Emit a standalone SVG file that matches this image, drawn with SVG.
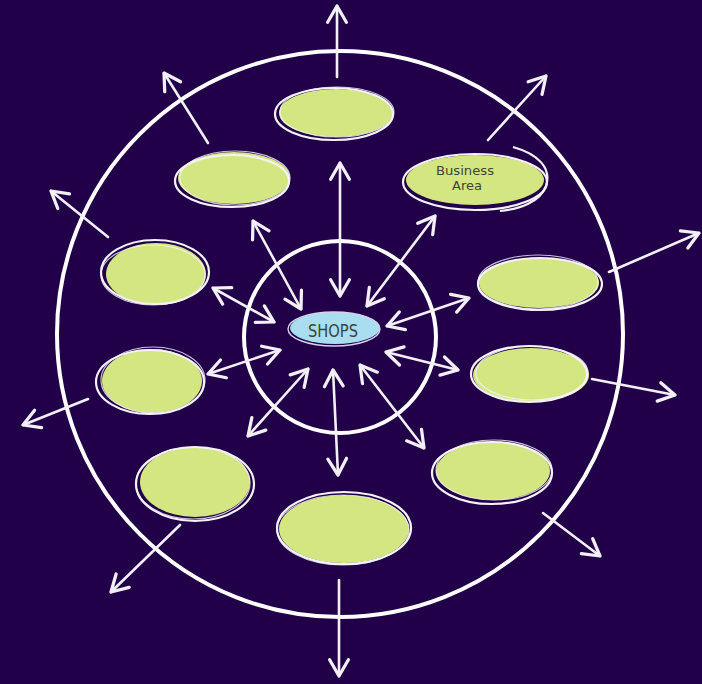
<svg xmlns="http://www.w3.org/2000/svg" width="702" height="684" viewBox="0 0 702 684">
<defs>
<style>
.ring{fill:none;stroke:#ffffff;stroke-width:4}
.g{fill:#d4e681}
.o{fill:none;stroke:#f4f2f8;stroke-width:2.2}
.o2{fill:none;stroke:#f4f2f8;stroke-width:1.2;opacity:0.8}
.a{stroke:#f2f0f6;stroke-width:2.6;fill:none;stroke-linecap:round}
.one{marker-end:url(#ah)}
.two{marker-start:url(#ah);marker-end:url(#ah)}
.lbl{font-family:"DejaVu Sans Condensed","DejaVu Sans",sans-serif;fill:#3b4636}
</style>
<marker id="ah" markerUnits="userSpaceOnUse" markerWidth="30" markerHeight="30" viewBox="-16 -12 20 24" refX="0" refY="0" orient="auto-start-reverse" overflow="visible">
<path d="M-13,-7.5 L0,0 L-13,7.5" fill="none" stroke="#f2f0f6" stroke-width="2.6" stroke-linecap="round" stroke-linejoin="round"/>
</marker>
</defs>
<rect width="702" height="684" fill="#210049"/>
<g id="rings">
<circle class="ring" cx="340" cy="334" r="283"/>
<circle class="ring" cx="340" cy="337" r="96"/>
</g>
<g id="connectors">
<line class="a one" x1="337" y1="77" x2="337" y2="6"/>
<line class="a one" x1="208" y1="143" x2="164" y2="73"/>
<line class="a one" x1="108" y1="237" x2="51" y2="191"/>
<line class="a one" x1="488" y1="140" x2="546" y2="76"/>
<line class="a one" x1="609" y1="272" x2="699" y2="233"/>
<line class="a one" x1="88" y1="399" x2="23" y2="425"/>
<line class="a one" x1="592" y1="379" x2="675" y2="395"/>
<line class="a one" x1="180" y1="525" x2="111" y2="592"/>
<line class="a one" x1="543" y1="513" x2="600" y2="556"/>
<line class="a one" x1="339" y1="580" x2="339" y2="676"/>
<line class="a two" x1="340" y1="163" x2="340" y2="296"/>
<line class="a two" x1="253" y1="221" x2="301" y2="309"/>
<line class="a two" x1="213" y1="288" x2="274" y2="322"/>
<line class="a two" x1="435" y1="216" x2="367" y2="306"/>
<line class="a two" x1="469" y1="298" x2="387" y2="326"/>
<line class="a two" x1="280" y1="350" x2="208" y2="374"/>
<line class="a two" x1="308" y1="369" x2="248" y2="436"/>
<line class="a two" x1="333" y1="370" x2="338" y2="475"/>
<line class="a two" x1="386" y1="352" x2="458" y2="370"/>
<line class="a two" x1="360" y1="365" x2="424" y2="448"/>
</g>
<g id="shops">
<ellipse cx="335" cy="328" rx="45" ry="16" fill="#a9def0"/>
<ellipse cx="334" cy="329" rx="46" ry="17" fill="none" stroke="#d8d0ec" stroke-width="1.4"/>
<text class="lbl" x="333" y="337" font-size="18" text-anchor="middle" textLength="50" lengthAdjust="spacingAndGlyphs" fill="#3c4850">SHOPS</text>
</g>
<g id="node-top">
<ellipse class="g" cx="336" cy="113" rx="57" ry="24"/>
<ellipse class="o" cx="334" cy="114" rx="59" ry="26"/>
<ellipse class="o2" cx="337" cy="112" rx="57" ry="25"/>
</g>
<g id="node-business">
<ellipse class="g" cx="475" cy="180" rx="69" ry="25"/>
<ellipse class="o" cx="475" cy="182" rx="72" ry="28"/>
<path class="o" d="M513,147 C538,154 552,168 546,186 C540,202 520,209 500,211"/>
<text class="lbl" x="465" y="175" font-size="13" text-anchor="middle" textLength="58" lengthAdjust="spacingAndGlyphs">Business</text>
<text class="lbl" x="467" y="190" font-size="13" text-anchor="middle" textLength="30" lengthAdjust="spacingAndGlyphs">Area</text>
</g>
<g id="node-topleft">
<ellipse class="g" cx="234" cy="178" rx="56" ry="26"/>
<ellipse class="o" cx="232" cy="181" rx="57" ry="26"/>
<ellipse class="o2" cx="235" cy="178" rx="55" ry="27"/>
</g>
<g id="node-leftupper">
<ellipse class="g" cx="156" cy="274" rx="50" ry="31"/>
<ellipse class="o" cx="155" cy="272" rx="54" ry="32"/>
<ellipse class="o2" cx="153" cy="275" rx="52" ry="30"/>
</g>
<g id="node-rightupper">
<ellipse class="g" cx="539" cy="283" rx="60" ry="25"/>
<ellipse class="o" cx="540" cy="284" rx="62" ry="26"/>
<ellipse class="o2" cx="538" cy="282" rx="60" ry="27"/>
</g>
<g id="node-leftmiddle">
<ellipse class="g" cx="152" cy="381" rx="50" ry="32"/>
<ellipse class="o" cx="150" cy="382" rx="54" ry="32"/>
<ellipse class="o2" cx="153" cy="380" rx="52" ry="33"/>
</g>
<g id="node-rightmiddle">
<ellipse class="g" cx="531" cy="375" rx="58" ry="27"/>
<ellipse class="o" cx="529" cy="374" rx="58" ry="28"/>
<ellipse class="o2" cx="532" cy="373" rx="56" ry="27"/>
</g>
<g id="node-lowerleft">
<ellipse class="g" cx="195" cy="482" rx="55" ry="35"/>
<ellipse class="o" cx="195" cy="484" rx="59" ry="37"/>
<ellipse class="o2" cx="193" cy="483" rx="57" ry="36"/>
</g>
<g id="node-lowerright">
<ellipse class="g" cx="493" cy="471" rx="57" ry="29"/>
<ellipse class="o" cx="492" cy="473" rx="60" ry="31"/>
<ellipse class="o2" cx="494" cy="470" rx="58" ry="30"/>
</g>
<g id="node-bottom">
<ellipse class="g" cx="344" cy="529" rx="65" ry="34"/>
<ellipse class="o" cx="344" cy="528" rx="67" ry="36"/>
<ellipse class="o2" cx="343" cy="530" rx="66" ry="35"/>
</g>
</svg>
